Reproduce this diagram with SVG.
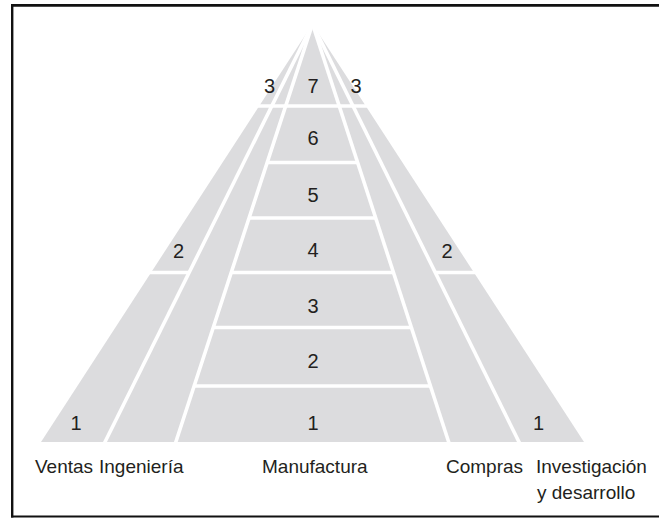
<svg xmlns="http://www.w3.org/2000/svg" width="659" height="518" viewBox="0 0 659 518">
  <style>
    .col { fill: #dcdcde; }
    .div { stroke: #ffffff; stroke-width: 3.6; fill: none; stroke-linecap: butt; }
    .num { font-family: "Liberation Sans", Arial, sans-serif; font-size: 20px; fill: #231f20; text-anchor: middle; }
    .lbl { font-family: "Liberation Sans", Arial, sans-serif; font-size: 19px; fill: #231f20; }
    .frame { stroke: #111111; fill: none; }
  </style>
  <rect x="0" y="0" width="659" height="518" fill="#ffffff"/>

  <g id="frame">
    <line class="frame" x1="11" y1="5.4" x2="659" y2="5.4" stroke-width="2.6"/>
    <line class="frame" x1="12.2" y1="4" x2="12.2" y2="517.6" stroke-width="2.4"/>
    <line class="frame" x1="11" y1="516.5" x2="659" y2="516.5" stroke-width="2.2"/>
  </g>

  <g id="ventas">
    <polygon class="col" points="312.5,24 41,442 104.5,442"/>
    <text class="num" x="76" y="430">1</text>
    <text class="num" x="178.5" y="257.5">2</text>
    <text class="num" x="269.5" y="93">3</text>
    <text class="lbl" x="35" y="473">Ventas</text>
  </g>

  <g id="ingenieria">
    <polygon class="col" points="312.5,24 104.5,442 175.5,442"/>
    <text class="lbl" x="99" y="473">Ingeniería</text>
  </g>

  <g id="manufactura">
    <polygon class="col" points="312.5,24 175.5,442 449,442"/>
    <text class="num" x="313" y="430">1</text>
    <text class="num" x="313" y="368">2</text>
    <text class="num" x="313" y="313">3</text>
    <text class="num" x="313" y="257">4</text>
    <text class="num" x="313" y="201.5">5</text>
    <text class="num" x="313" y="145">6</text>
    <text class="num" x="313" y="93">7</text>
    <text class="lbl" x="262" y="473">Manufactura</text>
  </g>

  <g id="compras">
    <polygon class="col" points="312.5,24 449,442 519.5,442"/>
    <text class="lbl" x="446" y="473">Compras</text>
  </g>

  <g id="investigacion">
    <polygon class="col" points="312.5,24 519.5,442 584,442"/>
    <text class="num" x="538.5" y="430">1</text>
    <text class="num" x="447" y="257.5">2</text>
    <text class="num" x="356" y="93">3</text>
    <text class="lbl" x="536" y="473">Investigación</text>
    <text class="lbl" x="537" y="499">y desarrollo</text>
  </g>

  <g id="dividers">
    <line class="div" x1="312.5" y1="24" x2="104.5" y2="443"/>
    <line class="div" x1="312.5" y1="24" x2="175.5" y2="443"/>
    <line class="div" x1="312.5" y1="24" x2="449" y2="443"/>
    <line class="div" x1="312.5" y1="24" x2="519.5" y2="443"/>
    <line class="div" x1="250" y1="106" x2="375" y2="106"/>
    <line class="div" x1="267.1" y1="162.5" x2="357.7" y2="162.5"/>
    <line class="div" x1="248.9" y1="218" x2="375.9" y2="218"/>
    <line class="div" x1="140" y1="272.5" x2="188.8" y2="272.5"/>
    <line class="div" x1="231.1" y1="272.5" x2="393.7" y2="272.5"/>
    <line class="div" x1="435.6" y1="272.5" x2="485" y2="272.5"/>
    <line class="div" x1="213" y1="327.5" x2="411.6" y2="327.5"/>
    <line class="div" x1="193.9" y1="386" x2="430.7" y2="386"/>
  </g>
</svg>
